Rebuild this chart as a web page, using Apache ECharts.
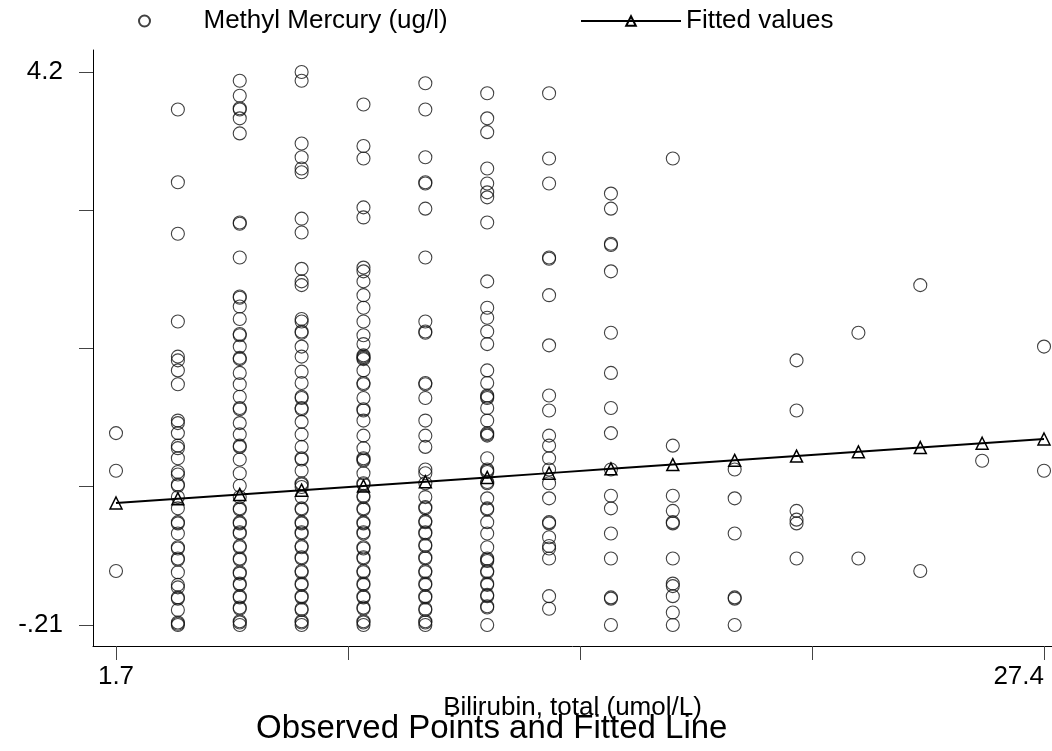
<!DOCTYPE html>
<html>
<head>
<meta charset="utf-8">
<script src="https://cdn.jsdelivr.net/npm/echarts@6/dist/echarts.min.js"></script>
<style>
html,body{margin:0;padding:0;background:#fff;}
#chart{width:1052px;height:751px;}
</style>
</head>
<body>
<div id="chart"></div>
<script>
// Bilirubin categories (umol/L)
const bilirubin = [1.71, 3.42, 5.13, 6.84, 8.55, 10.26, 11.97, 13.68, 15.39, 17.1, 18.81, 20.52, 22.23, 23.94, 25.65, 27.36];

// Methyl mercury observations per bilirubin value
const mm01 = [1.32, 1.02, 0.22];
const mm02 = [3.90, 3.32, 2.91, 2.21, 1.93, 1.90, 1.82, 1.71, 1.42, 1.40, 1.32, 1.22, 1.20, 1.12, 1.01, 0.99, 0.91, 0.90, 0.81, 0.72, 0.61, 0.60, 0.52, 0.41, 0.40, 0.32, 0.31, 0.21, 0.11, 0.09, 0.01, 0.00, -0.09, -0.19, -0.20, -0.21];
const mm03 = [4.13, 4.01, 3.91, 3.90, 3.83, 3.71, 3.00, 2.99, 2.72, 2.41, 2.40, 2.33, 2.23, 2.11, 2.10, 2.01, 1.91, 1.92, 1.80, 1.71, 1.61, 1.51, 1.52, 1.40, 1.31, 1.21, 1.22, 1.11, 1.00, 0.90, 0.81, 0.71, 0.72, 0.60, 0.61, 0.52, 0.53, 0.41, 0.42, 0.31, 0.32, 0.20, 0.21, 0.11, 0.12, 0.01, 0.02, -0.08, -0.07, -0.19, -0.18, -0.21];
const mm04 = [4.20, 4.13, 3.63, 3.52, 3.43, 3.40, 3.03, 2.92, 2.63, 2.53, 2.50, 2.23, 2.21, 2.13, 2.12, 2.01, 1.93, 1.81, 1.72, 1.61, 1.60, 1.51, 1.52, 1.41, 1.31, 1.21, 1.12, 1.11, 1.02, 0.91, 0.92, 0.89, 0.81, 0.71, 0.72, 0.60, 0.61, 0.52, 0.53, 0.41, 0.42, 0.32, 0.33, 0.21, 0.22, 0.11, 0.12, 0.01, 0.02, -0.09, -0.08, -0.19, -0.18, -0.21];
const mm05 = [3.94, 3.61, 3.51, 3.12, 3.04, 2.64, 2.61, 2.53, 2.42, 2.32, 2.21, 2.10, 2.03, 1.94, 1.93, 1.92, 1.91, 1.82, 1.71, 1.72, 1.60, 1.50, 1.51, 1.42, 1.30, 1.20, 1.12, 1.11, 1.10, 1.00, 0.91, 0.92, 0.81, 0.82, 0.71, 0.72, 0.60, 0.61, 0.52, 0.53, 0.40, 0.41, 0.32, 0.33, 0.21, 0.22, 0.11, 0.12, 0.01, 0.02, -0.08, -0.07, -0.19, -0.18, -0.21];
const mm06 = [4.11, 3.90, 3.52, 3.32, 3.31, 3.11, 2.72, 2.21, 2.13, 2.12, 1.72, 1.71, 1.60, 1.42, 1.30, 1.21, 1.03, 1.00, 0.92, 0.81, 0.72, 0.73, 0.61, 0.62, 0.52, 0.53, 0.42, 0.43, 0.32, 0.33, 0.21, 0.22, 0.11, 0.12, 0.01, 0.02, -0.09, -0.08, -0.19, -0.18, -0.21];
const mm07 = [4.03, 3.83, 3.72, 3.43, 3.31, 3.24, 3.20, 3.00, 2.53, 2.32, 2.24, 2.13, 2.03, 1.82, 1.72, 1.62, 1.61, 1.60, 1.52, 1.42, 1.32, 1.31, 1.30, 1.12, 1.03, 1.02, 1.01, 0.93, 0.92, 0.80, 0.71, 0.72, 0.61, 0.52, 0.41, 0.32, 0.31, 0.30, 0.21, 0.22, 0.11, 0.12, 0.02, 0.03, -0.07, -0.06, -0.21];
const mm08 = [4.03, 3.51, 3.31, 2.72, 2.71, 2.42, 2.02, 1.62, 1.50, 1.30, 1.22, 1.12, 1.03, 0.92, 0.80, 0.61, 0.60, 0.49, 0.42, 0.40, 0.32, 0.02, -0.08];
const mm09 = [3.23, 3.11, 2.83, 2.82, 2.61, 2.12, 1.80, 1.52, 1.32, 1.03, 0.82, 0.72, 0.52, 0.32, 0.01, 0.00, -0.21];
const mm10 = [3.51, 1.22, 0.82, 0.70, 0.61, 0.60, 0.32, 0.12, 0.10, 0.02, -0.11, -0.21];
const mm11 = [1.03, 0.80, 0.52, 0.01, 0.00, -0.21];
const mm12 = [1.90, 1.50, 0.70, 0.63, 0.60, 0.32];
const mm13 = [2.12, 0.32];
const mm14 = [2.50, 0.22];
const mm15 = [1.10];
const mm16 = [2.01, 1.02];

// Fitted values at each bilirubin value
const fitted = [0.763, 0.797, 0.831, 0.865, 0.899, 0.933, 0.967, 1.001, 1.035, 1.069, 1.103, 1.137, 1.171, 1.205, 1.239, 1.273];

// Axis ticks / labels
const xTicks = [1.71, 8.1225, 14.535, 20.9475, 27.36];
const xLabelValues = [1.71, 27.36];
const xLabelText = ['1.7', '27.4'];
const yTicks = [-0.21, 0.8925, 1.995, 3.0975, 4.2];
const yLabelValues = [-0.21, 4.2];
const yLabelText = ['-.21', '4.2'];

const columns = [mm01, mm02, mm03, mm04, mm05, mm06, mm07, mm08, mm09, mm10, mm11, mm12, mm13, mm14, mm15, mm16];
const scatterData = [];
columns.forEach((col, i) => col.forEach(v => scatterData.push([bilirubin[i], v])));
const fittedData = bilirubin.map((x, i) => [x, fitted[i]]);

const FONT = 'Liberation Sans, Arial, sans-serif';
const chart = echarts.init(document.getElementById('chart'), null, {renderer: 'canvas'});
chart.setOption({
  animation: false,
  backgroundColor: '#fff',
  title: {
    text: 'Observed Points and Fitted Line',
    left: 256, top: 712, padding: 0,
    textStyle: {fontSize: 33, fontWeight: 'normal', color: '#000', fontFamily: FONT}
  },
  legend: [
    {
      data: ['Methyl Mercury (ug/l)'], left: 138, top: 8, padding: 0,
      itemWidth: 108, itemHeight: 11, selectedMode: false,
      textStyle: {fontSize: 26, color: '#000', fontFamily: FONT}
    },
    {
      data: ['Fitted values'], left: 580, top: 8, padding: 0,
      itemWidth: 100, itemHeight: 12, selectedMode: false,
      textStyle: {fontSize: 26, color: '#000', fontFamily: FONT}
    }
  ],
  grid: {left: 93, right: 0, top: 50, bottom: 105, containLabel: false, outerBoundsMode: 'none'},
  xAxis: {
    type: 'value', min: 1.074, max: 27.581,
    name: 'Bilirubin, total (umol/L)', nameLocation: 'middle', nameGap: 42,
    nameTextStyle: {fontSize: 26, color: '#000', fontFamily: FONT},
    axisLine: {show: true, onZero: false, lineStyle: {color: '#000', width: 1}},
    axisTick: {show: true, customValues: xTicks, length: 14, lineStyle: {color: '#444', width: 1}},
    axisLabel: {
      customValues: xLabelValues, margin: 18, fontSize: 26, color: '#000', fontFamily: FONT,
      hideOverlap: false, alignMaxLabel: 'right',
      formatter: v => xLabelText[xLabelValues.indexOf(v)]
    },
    splitLine: {show: false}
  },
  yAxis: {
    type: 'value', min: -0.3775, max: 4.375,
    axisLine: {show: true, onZero: false, lineStyle: {color: '#000', width: 1}},
    axisTick: {show: true, customValues: yTicks, length: 14, lineStyle: {color: '#444', width: 1}},
    axisLabel: {
      customValues: yLabelValues, margin: 30, fontSize: 26, color: '#000', fontFamily: FONT,
      formatter: v => yLabelText[yLabelValues.indexOf(v)]
    },
    splitLine: {show: false}
  },
  series: [
    {
      name: 'Methyl Mercury (ug/l)', type: 'scatter', data: scatterData,
      symbol: 'circle', symbolSize: 13,
      itemStyle: {color: 'rgba(0,0,0,0)', borderColor: '#111', borderWidth: 1.1},
      emphasis: {disabled: true}, z: 2
    },
    {
      name: 'Fitted values', type: 'line', data: fittedData,
      symbol: 'triangle', symbolSize: 12, showSymbol: true,
      lineStyle: {color: '#000', width: 2},
      itemStyle: {color: 'rgba(255,255,255,0)', borderColor: '#000', borderWidth: 1.5},
      emphasis: {disabled: true}, z: 3
    }
  ]
});
</script>
</body>
</html>
